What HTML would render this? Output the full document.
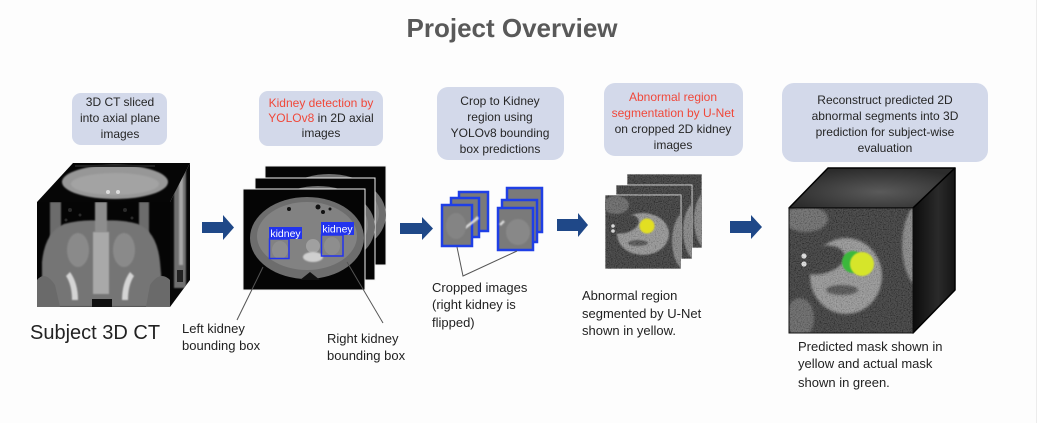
<!DOCTYPE html>
<html><head><meta charset="utf-8"><style>
html,body{margin:0;padding:0;background:#fdfdfd;}
svg{display:block}
text{font-family:"Liberation Sans",sans-serif;}
</style></head><body>
<svg width="1037" height="423" viewBox="0 0 1037 423" xmlns="http://www.w3.org/2000/svg">
<defs>
 <filter id="b2" x="-30%" y="-30%" width="160%" height="160%"><feGaussianBlur stdDeviation="0.7"/></filter>
 <filter id="b3" x="-30%" y="-30%" width="160%" height="160%"><feGaussianBlur stdDeviation="1.4"/></filter>
 <filter id="nz" x="0" y="0" width="100%" height="100%">
  <feTurbulence type="fractalNoise" baseFrequency="0.85" numOctaves="1" seed="4"/>
  <feColorMatrix type="matrix" values="1.2 0 0 0 -0.35  1.2 0 0 0 -0.35  1.2 0 0 0 -0.35  0 0 0 0 0.22"/>
 </filter>
 <clipPath id="c1f"><rect x="37" y="202" width="133" height="105"/></clipPath>
 <clipPath id="c1t"><polygon points="37,202 73,163 190,163 170,202"/></clipPath>
 <clipPath id="c1s"><polygon points="170,202 190,163 190,280 170,307"/></clipPath>
 <clipPath id="s2a"><rect x="265" y="166" width="121" height="99"/></clipPath>
 <clipPath id="s2b"><rect x="255" y="178" width="120" height="102"/></clipPath>
 <clipPath id="s2c"><rect x="243" y="189" width="122" height="101"/></clipPath>
 <clipPath id="u4a"><rect x="627" y="174" width="75" height="74"/></clipPath>
 <clipPath id="u4b"><rect x="616" y="185" width="76" height="74"/></clipPath>
 <clipPath id="u4c"><rect x="605" y="195" width="76" height="74"/></clipPath>
 <clipPath id="c5f"><rect x="789" y="208" width="124" height="125"/></clipPath>
 <radialGradient id="topg" cx="0.55" cy="0.6" r="0.6">
  <stop offset="0" stop-color="#5a5a5a"/><stop offset="1" stop-color="#2c2c2c"/>
 </radialGradient>
 <linearGradient id="sideg" x1="0" y1="0" x2="1" y2="0">
  <stop offset="0" stop-color="#0c0c0c"/><stop offset="0.6" stop-color="#2a2a2a"/><stop offset="1" stop-color="#151515"/>
 </linearGradient>
</defs>

<rect width="1037" height="423" fill="#fdfdfd"/>
<line x1="1036.5" y1="0" x2="1036.5" y2="423" stroke="#ececec" stroke-width="1"/>

<!-- Title -->
<text x="512" y="37" text-anchor="middle" font-size="26" font-weight="bold" fill="#595959">Project Overview</text>

<!-- Boxes -->
<rect x="72" y="93" width="95" height="52" rx="9" fill="#d3d9ea"/>
<g font-size="12" fill="#262626" text-anchor="middle">
 <text x="120" y="106">3D CT sliced</text>
 <text x="120" y="122">into axial plane</text>
 <text x="120" y="138">images</text>
</g>

<rect x="259" y="91" width="124" height="55" rx="9" fill="#d3d9ea"/>
<g font-size="12" fill="#262626" text-anchor="middle">
 <text x="321" y="107" fill="#f0483a">Kidney detection by</text>
 <text x="321" y="122"><tspan fill="#f0483a">YOLOv8</tspan> in 2D axial</text>
 <text x="321" y="137">images</text>
</g>

<rect x="437" y="87" width="127" height="73" rx="11" fill="#d3d9ea"/>
<g font-size="12" fill="#262626" text-anchor="middle">
 <text x="500" y="105">Crop to Kidney</text>
 <text x="500" y="121">region using</text>
 <text x="500" y="137">YOLOv8 bounding</text>
 <text x="500" y="153">box predictions</text>
</g>

<rect x="604" y="83" width="139" height="73" rx="11" fill="#d3d9ea"/>
<g font-size="12" fill="#262626" text-anchor="middle">
 <text x="673" y="101" fill="#f0483a">Abnormal region</text>
 <text x="673" y="117" fill="#f0483a">segmentation by U-Net</text>
 <text x="673" y="133">on cropped 2D kidney</text>
 <text x="673" y="149">images</text>
</g>

<rect x="782" y="83" width="206" height="79" rx="12" fill="#d3d9ea"/>
<g font-size="12" fill="#262626" text-anchor="middle">
 <text x="885" y="104">Reconstruct predicted 2D</text>
 <text x="885" y="120">abnormal segments into 3D</text>
 <text x="885" y="136">prediction for subject-wise</text>
 <text x="885" y="152">evaluation</text>
</g>

<!-- Arrows -->
<g fill="#1f4888">
 <polygon points="202,222 223,222 223,215 234,227.5 223,240 223,233 202,233"/>
 <polygon points="400,223 422,223 422,217 433,228.5 422,240 422,234 400,234"/>
 <polygon points="557,219 578,219 578,213 588,225 578,237 578,231 557,231"/>
 <polygon points="730,221 751,221 751,215 762,227 751,239 751,233 730,233"/>
</g>

<!-- Cube 1 -->
<polygon points="37,202 73,163 190,163 170,202" fill="#060606"/>
<g clip-path="url(#c1t)">
 <ellipse cx="115" cy="182" rx="53" ry="17" fill="#979797" filter="url(#b2)"/>
 <ellipse cx="115" cy="184" rx="44" ry="11" fill="#a3a3a3" filter="url(#b2)"/>
 <circle cx="108" cy="192" r="2" fill="#ddd"/><circle cx="118" cy="192" r="2" fill="#ddd"/>
 <rect x="75" y="165" width="80" height="2" fill="#222"/>
</g>
<polygon points="170,202 190,163 190,280 170,307" fill="#080808"/>
<g clip-path="url(#c1s)">
 <rect x="174" y="168" width="12" height="120" fill="#6f6f6f" filter="url(#b2)"/>
 <rect x="179" y="175" width="4" height="90" fill="#a8a8a8" filter="url(#b2)"/>
 <rect x="177" y="270" width="6" height="12" fill="#222"/>
</g>
<rect x="37" y="202" width="133" height="105" fill="#050505"/>
<g clip-path="url(#c1f)">
 <rect x="50" y="202" width="11" height="48" fill="#6c6c6c" filter="url(#b2)"/>
 <rect x="139" y="202" width="10" height="48" fill="#6c6c6c" filter="url(#b2)"/>
 <g fill="#2a2a2a"><circle cx="70" cy="210" r="2"/><circle cx="80" cy="215" r="1.5"/><circle cx="125" cy="210" r="2"/><circle cx="132" cy="218" r="1.5"/><circle cx="66" cy="220" r="1.5"/></g>
 <path d="M42 307 L42 262 Q45 232 64 224 Q84 219 101 221 Q120 219 138 224 Q157 232 160 262 L164 307 Z" fill="#747474" filter="url(#b2)"/>
 <path d="M37 307 L37 280 Q45 270 55 285 L60 307 Z" fill="#6a6a6a"/>
 <path d="M170 307 L170 280 Q160 270 150 285 L146 307 Z" fill="#6a6a6a"/>
 <ellipse cx="78" cy="250" rx="11" ry="17" fill="#8a8a8a" filter="url(#b2)"/>
 <ellipse cx="124" cy="250" rx="11" ry="17" fill="#8a8a8a" filter="url(#b2)"/>
 <rect x="95" y="202" width="12" height="30" fill="#8d8d8d" filter="url(#b2)"/>
 <rect x="93" y="232" width="16" height="62" fill="#a9a9a9" filter="url(#b2)"/>
 <path d="M66 276 Q72 285 72 300 L78 300 Q78 283 70 272 Z" fill="#d4d4d4" filter="url(#b2)"/>
 <path d="M134 276 Q128 285 128 300 L122 300 Q122 283 130 272 Z" fill="#d4d4d4" filter="url(#b2)"/>
 <rect x="92" y="299" width="20" height="8" fill="#111"/>
</g>

<text x="30" y="339" font-size="20" fill="#222">Subject 3D CT</text>

<!-- Stack 2 slices -->
<rect x="265" y="166" width="121" height="99" fill="#050505" stroke="#f4f4f4" stroke-width="1"/>
<g clip-path="url(#s2a)">
 <ellipse cx="329" cy="215" rx="57" ry="41" fill="#6e6e6e"/>
 <ellipse cx="329" cy="213" rx="50" ry="34" fill="#808080"/>
</g>
<rect x="255" y="178" width="120" height="102" fill="#050505" stroke="#f4f4f4" stroke-width="1"/>
<g clip-path="url(#s2b)">
 <ellipse cx="318" cy="227" rx="57" ry="41" fill="#6e6e6e"/>
 <ellipse cx="318" cy="225" rx="50" ry="34" fill="#808080"/>
</g>
<rect x="243" y="189" width="122" height="101" fill="#050505" stroke="#f4f4f4" stroke-width="1"/>
<g clip-path="url(#s2c)">
 <ellipse cx="307" cy="238" rx="57" ry="41" fill="#6d6d6d"/>
 <ellipse cx="307" cy="236" rx="50" ry="34" fill="#828282"/>
 <path d="M300 280 L310 272 L320 280 Z" fill="#111"/>
 <circle cx="313" cy="246" r="7" fill="#a0a0a0"/>
 <ellipse cx="313" cy="257" rx="10" ry="5" fill="#cfcfcf" filter="url(#b2)"/>
 <g fill="#111"><circle cx="289" cy="209" r="2"/><circle cx="318" cy="207" r="2.5"/><circle cx="323" cy="212" r="2"/><circle cx="330" cy="209" r="1.5"/></g>
 <ellipse cx="280" cy="250" rx="8" ry="9" fill="#8e8e8e"/>
 <ellipse cx="332" cy="246" rx="8" ry="9" fill="#8e8e8e"/>
</g>
<g stroke="#2233ee" stroke-width="1.5" fill="none">
 <rect x="269.5" y="239" width="19.5" height="19.5"/>
 <rect x="321.5" y="235" width="21.5" height="21"/>
</g>
<rect x="269" y="227" width="33" height="12" fill="#2233ee"/>
<rect x="321" y="222" width="33" height="13" fill="#2233ee"/>
<text x="285.5" y="237" font-size="10.5" fill="#fff" text-anchor="middle">kidney</text>
<text x="337.5" y="232.5" font-size="10.5" fill="#fff" text-anchor="middle">kidney</text>

<g stroke="#555" stroke-width="1">
 <line x1="263" y1="267" x2="237" y2="320"/>
 <line x1="347" y1="262" x2="383" y2="323"/>
</g>
<g font-size="13" fill="#222">
 <text x="182" y="333">Left kidney</text>
 <text x="182" y="350">bounding box</text>
 <text x="327" y="343">Right kidney</text>
 <text x="327" y="360">bounding box</text>
</g>

<!-- Cropped stack -->
<g stroke="#1f3fe6" stroke-width="2.5" fill="#7a7a7a">
 <rect x="459" y="192" width="29" height="39"/>
 <rect x="451" y="198" width="28" height="39"/>
 <rect x="442" y="205" width="30" height="41"/>
 <rect x="507" y="188" width="35" height="44"/>
 <rect x="502" y="200" width="35" height="42"/>
 <rect x="498" y="208" width="35" height="42"/>
</g>
<g stroke="#d8d8d8" stroke-width="2.5" filter="url(#b2)">
 <line x1="465" y1="228" x2="478" y2="218"/>
 <line x1="474" y1="221" x2="478" y2="217"/>
 <line x1="500" y1="225" x2="504" y2="221"/>
</g>
<ellipse cx="518" cy="232" rx="12" ry="13" fill="#888" filter="url(#b2)"/>
<ellipse cx="456" cy="226" rx="10" ry="13" fill="#848484" filter="url(#b2)"/>
<polyline points="457,247 463,276 517,251" fill="none" stroke="#555" stroke-width="1"/>
<g font-size="13" fill="#222">
 <text x="432" y="292">Cropped images</text>
 <text x="432" y="309">(right kidney is</text>
 <text x="432" y="327">flipped)</text>
</g>

<!-- U-Net stack -->
<rect x="627" y="174" width="75" height="74" fill="#363636" stroke="#fafafa" stroke-width="0.8"/>
<g clip-path="url(#u4a)">
 <ellipse cx="712" cy="220" rx="18" ry="32" fill="#888" filter="url(#b2)"/>
 <rect x="627" y="174" width="75" height="74" filter="url(#nz)"/>
</g>
<rect x="616" y="185" width="76" height="74" fill="#363636" stroke="#fafafa" stroke-width="0.8"/>
<g clip-path="url(#u4b)">
 <ellipse cx="701" cy="231" rx="18" ry="32" fill="#888" filter="url(#b2)"/>
 <rect x="616" y="185" width="76" height="74" filter="url(#nz)"/>
</g>
<rect x="605" y="195" width="76" height="74" fill="#363636" stroke="#fafafa" stroke-width="0.8"/>
<g clip-path="url(#u4c)">
 <ellipse cx="690" cy="241" rx="18" ry="32" fill="#888" filter="url(#b2)"/>
 <ellipse cx="616" cy="205" rx="13" ry="9" fill="#686868" filter="url(#b2)"/>
 <ellipse cx="643" cy="234" rx="26" ry="21" fill="#9a9a9a" filter="url(#b2)"/>
 <ellipse cx="624" cy="224" rx="15" ry="9" fill="#363636" filter="url(#b2)" transform="rotate(-15 624 224)"/>
 <ellipse cx="638" cy="243" rx="10" ry="3" fill="#505050" filter="url(#b2)"/>
 <circle cx="613" cy="226" r="1.8" fill="#eee"/><circle cx="613" cy="231" r="1.8" fill="#eee"/>
 <rect x="605" y="195" width="76" height="74" filter="url(#nz)"/>
 <circle cx="647" cy="226" r="7.5" fill="#e2df22" filter="url(#b2)"/>
</g>
<g font-size="13" fill="#222">
 <text x="582" y="300">Abnormal region</text>
 <text x="582" y="318">segmented by U-Net</text>
 <text x="582" y="335">shown in yellow.</text>
</g>

<!-- Cube 5 -->
<polygon points="789,208 828,168 955,168 913,208" fill="url(#topg)" stroke="#000" stroke-width="1.5" stroke-linejoin="round"/>
<polygon points="913,208 955,168 955,290 913,333" fill="url(#sideg)" stroke="#000" stroke-width="1.5" stroke-linejoin="round"/>
<rect x="789" y="208" width="124" height="125" fill="#363636"/>
<g clip-path="url(#c5f)">
 <ellipse cx="806" cy="219" rx="22" ry="13" fill="#6c6c6c" filter="url(#b3)"/>
 <ellipse cx="926" cy="245" rx="24" ry="46" fill="#8a8a8a" filter="url(#b3)"/>
 <ellipse cx="846" cy="276" rx="36" ry="38" fill="#9c9c9c" filter="url(#b3)"/>
 <ellipse cx="820" cy="260" rx="25" ry="14" fill="#363636" filter="url(#b3)" transform="rotate(-12 820 260)"/>
 <ellipse cx="842" cy="290" rx="16" ry="5" fill="#505050" filter="url(#b3)"/>
 <ellipse cx="800" cy="318" rx="14" ry="20" fill="#666" filter="url(#b3)"/>
 <circle cx="804" cy="256" r="2.6" fill="#f0f0f0"/><circle cx="804" cy="264" r="2.6" fill="#f0f0f0"/>
 <rect x="789" y="208" width="124" height="125" filter="url(#nz)"/>
 <circle cx="853" cy="262" r="11" fill="#3ab83a" filter="url(#b2)"/>
 <circle cx="862" cy="264" r="12" fill="#d6e52c" filter="url(#b2)"/>
</g>
<rect x="789" y="208" width="124" height="125" fill="none" stroke="#111" stroke-width="1"/>
<g font-size="13" fill="#222">
 <text x="798" y="351">Predicted mask shown in</text>
 <text x="798" y="368">yellow and actual mask</text>
 <text x="798" y="387">shown in green.</text>
</g>
</svg>
</body></html>
